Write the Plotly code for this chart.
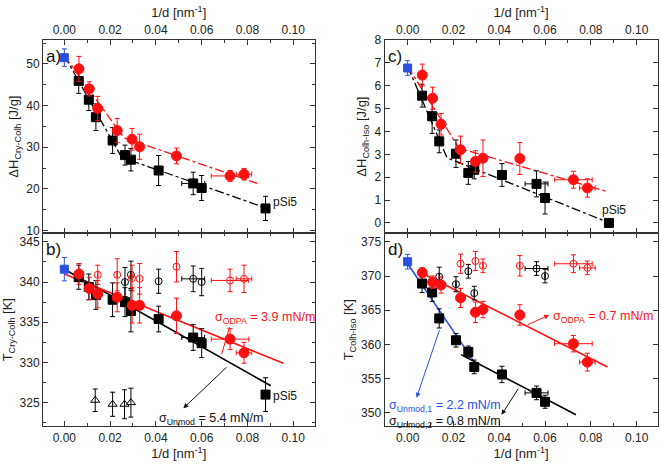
import plotly.graph_objects as go

RED = "#ff1010"
BLK = "#000000"
BLU = "#2a50e0"

# ---------------- data ----------------
x_bulk = [0.0]
x_unmod = [0.0063, 0.0107, 0.0138, 0.0211, 0.0265, 0.0291, 0.0412, 0.0563, 0.0600, 0.0879]
x_odpa = [0.0064, 0.0109, 0.0146, 0.0231, 0.0296, 0.0329, 0.0490, 0.0724, 0.0785]
xerr_unmod = [0, 0, 0, 0, 0, 0, 0, 0.005, 0, 0]
xerr_odpa = [0, 0, 0, 0, 0, 0, 0, 0.0082, 0.0034]

# a) dH Cry-Colh
a_bulk = [51.5]; a_bulk_err = [2.1]
a_unmod = [45.9, 41.4, 37.2, 31.6, 28.1, 27.0, 24.4, 21.3, 20.2, 15.3]
a_unmod_err = [3.0, 2.6, 3.2, 3.1, 2.4, 2.7, 3.6, 2.7, 3.0, 2.9]
a_odpa = [48.8, 44.0, 39.3, 34.0, 31.9, 30.1, 27.9, 23.1, 23.5]
a_odpa_err = [3.0, 1.7, 2.9, 2.9, 2.6, 3.0, 1.9, 1.3, 1.4]
a_fit_unmod_x = [0.0, 0.025, 0.088]; a_fit_unmod_y = [52.0, 27.6, 15.4]
a_fit_odpa_x = [0.0, 0.026, 0.0843]; a_fit_odpa_y = [52.0, 32.3, 21.3]

# b) T Cry-Colh
b_bulk = [341.6]; b_bulk_err = [1.45]
b_unmod = [340.6, 339.4, 338.4, 337.8, 337.5, 336.4, 335.4, 333.1, 332.4, 326.0]
b_unmod_err = [1.5, 1.6, 1.8, 2.1, 1.8, 2.6, 1.6, 1.6, 1.8, 2.1]
b_odpa = [341.0, 339.2, 338.5, 338.1, 337.1, 337.1, 335.8, 332.9, 331.2]
b_odpa_err = [1.3, 1.4, 1.7, 1.8, 2.2, 2.2, 2.2, 1.3, 1.3]
b_open_unmod_x = [0.0265, 0.0291, 0.0412, 0.0563, 0.0600]
b_open_unmod = [340.0, 340.9, 340.1, 340.4, 340.0]
b_open_unmod_err = [1.8, 1.7, 1.5, 1.6, 1.7]
b_open_unmod_xerr = [0, 0, 0, 0.005, 0]
b_open_odpa_x = [0.0146, 0.0231, 0.0296, 0.0329, 0.0490, 0.0724, 0.0785]
b_open_odpa = [340.9, 340.9, 340.5, 340.4, 341.9, 340.2, 340.4]
b_open_odpa_err = [1.2, 2.0, 1.6, 1.9, 1.9, 1.4, 1.7]
b_open_odpa_xerr = [0, 0, 0, 0, 0, 0.0082, 0.0034]
b_tri_x = [0.0135, 0.0211, 0.0263, 0.0291]
b_tri = [325.3, 324.8, 324.8, 325.0]
b_tri_err = [1.4, 1.5, 1.8, 1.8]
b_fit_unmod_x = [0.0, 0.0902]; b_fit_unmod_y = [341.6, 327.1]
b_fit_odpa_x = [0.0, 0.0957]; b_fit_odpa_y = [341.0, 329.9]

# c) dH Colh-Iso
c_bulk = [6.78]; c_bulk_err = [0.32]
c_unmod = [5.57, 4.67, 3.57, 3.03, 2.19, 2.33, 2.10, 1.71, 1.09, 0.0]
c_unmod_err = [0.5, 0.75, 0.5, 0.6, 0.5, 0.4, 0.5, 0.57, 0.7, 0]
c_odpa = [6.47, 5.46, 4.32, 3.20, 2.69, 2.83, 2.82, 1.89, 1.53]
c_odpa_err = [0.48, 0.48, 0.47, 0.6, 0.47, 0.8, 0.7, 0.37, 0.4]
c_fit_unmod_x = [0.0, 0.0172, 0.0875]; c_fit_unmod_y = [6.85, 2.85, 0.03]
c_fit_odpa_x = [0.0, 0.0225, 0.0865]; c_fit_odpa_y = [6.85, 3.27, 1.39]

# d) T Colh-Iso
d_bulk = [372.1]; d_bulk_err = [1.07]
d_unmod_x = x_unmod[:9]
d_unmod = [368.9, 367.6, 363.8, 360.6, 358.9, 356.7, 355.6, 352.9, 351.6]
d_unmod_err = [1.3, 1.3, 1.4, 1.0, 0.85, 1.0, 1.2, 1.0, 0.95]
d_odpa = [370.5, 369.1, 368.7, 366.8, 364.7, 365.1, 364.3, 360.1, 357.4]
d_odpa_err = [0.7, 0.9, 1.2, 1.4, 1.5, 1.2, 1.5, 1.2, 1.3]
d_open_unmod_x = [0.0138, 0.0211, 0.0265, 0.0291, 0.0563, 0.0600]
d_open_unmod = [369.9, 368.8, 370.7, 367.5, 371.1, 370.0]
d_open_unmod_err = [1.4, 1.1, 1.0, 1.0, 1.0, 1.0]
d_open_unmod_xerr = [0, 0, 0, 0, 0.005, 0]
d_open_odpa_x = [0.0231, 0.0296, 0.0329, 0.0490, 0.0724, 0.0785]
d_open_odpa = [371.8, 372.2, 371.5, 371.5, 371.8, 371.2]
d_open_odpa_err = [1.4, 1.4, 1.0, 1.5, 1.3, 1.0]
d_open_odpa_xerr = [0, 0, 0, 0, 0.0082, 0.0034]
d_fit1_x = [0.0, 0.030]; d_fit1_y = [371.8, 357.0]
d_fit2_x = [0.0233, 0.0735]; d_fit2_y = [358.5, 349.7]
d_fit_odpa_x = [0.0046, 0.0873]; d_fit_odpa_y = [370.7, 356.7]

fig = go.Figure()


def pts(x, y, ey, ax, color, symbol, size, ex=None, lw=1.0):
    e_x = dict(type="data", array=ex, color=color, thickness=1, width=2.5, visible=True) if ex else None
    fig.add_trace(go.Scatter(
        x=x, y=y, mode="markers", xaxis=ax[0], yaxis=ax[1],
        marker=dict(color=color, symbol=symbol, size=size,
                    line=dict(color=color, width=lw)),
        error_y=dict(type="data", array=ey, color=color, thickness=1, width=2.5),
        error_x=e_x, showlegend=False))


def line(x, y, ax, color, dash, width=1.3):
    fig.add_trace(go.Scatter(x=x, y=y, mode="lines", xaxis=ax[0], yaxis=ax[1],
                             line=dict(color=color, dash=dash, width=width), showlegend=False))


A = ("x", "y"); B = ("x2", "y2"); C = ("x3", "y3"); D = ("x4", "y4")

# panel a
line(a_fit_unmod_x, a_fit_unmod_y, A, BLK, "dashdot")
line(a_fit_odpa_x, a_fit_odpa_y, A, RED, "dashdot")
pts(x_unmod, a_unmod, a_unmod_err, A, BLK, "square", 9, xerr_unmod)
pts(x_odpa, a_odpa, a_odpa_err, A, RED, "circle", 10, xerr_odpa)
pts(x_bulk, a_bulk, a_bulk_err, A, BLU, "square", 8)

# panel b
line(b_fit_unmod_x, b_fit_unmod_y, B, BLK, "solid", 1.6)
line(b_fit_odpa_x, b_fit_odpa_y, B, RED, "solid", 1.6)
pts(b_open_unmod_x, b_open_unmod, b_open_unmod_err, B, BLK, "circle-open", 7, b_open_unmod_xerr)
pts(b_open_odpa_x, b_open_odpa, b_open_odpa_err, B, RED, "circle-open", 7, b_open_odpa_xerr)
pts(b_tri_x, b_tri, b_tri_err, B, BLK, "triangle-up-open", 8)
pts(x_unmod, b_unmod, b_unmod_err, B, BLK, "square", 9, xerr_unmod)
pts(x_odpa, b_odpa, b_odpa_err, B, RED, "circle", 10, xerr_odpa)
pts(x_bulk, b_bulk, b_bulk_err, B, BLU, "square", 8)

# panel c
line(c_fit_unmod_x, c_fit_unmod_y, C, BLK, "dashdot")
line(c_fit_odpa_x, c_fit_odpa_y, C, RED, "dashdot")
pts(x_unmod, c_unmod, c_unmod_err, C, BLK, "square", 9, xerr_unmod)
pts(x_odpa, c_odpa, c_odpa_err, C, RED, "circle", 10, xerr_odpa)
pts(x_bulk, c_bulk, c_bulk_err, C, BLU, "square", 8)

# panel d
line(d_fit1_x, d_fit1_y, D, BLU, "solid", 1.6)
line(d_fit2_x, d_fit2_y, D, BLK, "solid", 1.6)
line(d_fit_odpa_x, d_fit_odpa_y, D, RED, "solid", 1.6)
pts(d_open_unmod_x, d_open_unmod, d_open_unmod_err, D, BLK, "circle-open", 7, d_open_unmod_xerr)
pts(d_open_odpa_x, d_open_odpa, d_open_odpa_err, D, RED, "circle-open", 7, d_open_odpa_xerr)
pts(d_unmod_x, d_unmod, d_unmod_err, D, BLK, "square", 9, xerr_unmod[:9])
pts(x_odpa, d_odpa, d_odpa_err, D, RED, "circle", 10, xerr_odpa)
pts(x_bulk, d_bulk, d_bulk_err, D, BLU, "square", 8)

FONT = "Liberation Sans, Arial, sans-serif"
xL = [0.0651, 0.4758]
xR = [0.5817, 0.995]
yTop = [0.5, 0.9267]
yBot = [0.0722, 0.5]

common_x = dict(tickmode="linear", tick0=0, dtick=0.02, tickformat=".2f", ticks="inside",
                ticklen=5, showline=True, linecolor="#333", linewidth=1, mirror="ticks",
                showgrid=False, zeroline=False, tickfont=dict(size=12, color="#222"),
                minor=dict(ticks="inside", dtick=0.01, ticklen=3, tickcolor="#333"),
                tickcolor="#333")
common_y = dict(ticks="inside", ticklen=5, showline=True, linecolor="#333", linewidth=1,
                mirror="ticks", showgrid=False, zeroline=False,
                tickfont=dict(size=12, color="#222"), tickcolor="#333",
                title_font=dict(size=13, color="#222"))
xtitle = "1/d [nm<sup>-1</sup>]"

fig.update_layout(
    width=661, height=464, margin=dict(l=0, r=0, t=0, b=0),
    paper_bgcolor="white", plot_bgcolor="white",
    font=dict(family=FONT, size=12, color="#222"),
    xaxis=dict(domain=xL, anchor="y", side="top", range=[-0.0093, 0.1093],
               title=dict(text=xtitle, standoff=2, font=dict(size=13)), **common_x),
    yaxis=dict(domain=yTop, anchor="x", range=[9.4, 55.7], tickmode="linear", tick0=0, dtick=10,
               minor=dict(ticks="inside", dtick=5, ticklen=3, tickcolor="#333"),
               title=dict(text="ΔH<sub>Cry-Colh</sub> [J/g]", standoff=4), **common_y),
    xaxis2=dict(domain=xL, anchor="y2", side="bottom", range=[-0.0093, 0.1093],
                title=dict(text=xtitle, standoff=2, font=dict(size=13)), **common_x),
    yaxis2=dict(domain=yBot, anchor="x2", range=[322.05, 346.1], tickmode="linear", tick0=0, dtick=5,
                minor=dict(ticks="inside", dtick=2.5, ticklen=3, tickcolor="#333"),
                title=dict(text="T<sub>Cry-Colh</sub> [K]", standoff=4), **common_y),
    xaxis3=dict(domain=xR, anchor="y3", side="top", range=[-0.0101, 0.1092],
                title=dict(text=xtitle, standoff=2, font=dict(size=13)), **common_x),
    yaxis3=dict(domain=yTop, anchor="x3", range=[-0.44, 8.0], tickmode="linear", tick0=0, dtick=1,
                title=dict(text="ΔH<sub>Colh-Iso</sub> [J/g]", standoff=4), **common_y),
    xaxis4=dict(domain=xR, anchor="y4", side="bottom", range=[-0.0101, 0.1092],
                title=dict(text=xtitle, standoff=2, font=dict(size=13)), **common_x),
    yaxis4=dict(domain=yBot, anchor="x4", range=[348.0, 376.3], tickmode="linear", tick0=0, dtick=5,
                title=dict(text="T<sub>Colh-Iso</sub> [K]", standoff=4), **common_y),
)

ann = []
for lab, xr, yr in [("a)", "x", "y"), ("b)", "x2", "y2"), ("c)", "x3", "y3"), ("d)", "x4", "y4")]:
    ann.append(dict(text=lab, xref=xr + " domain", yref=yr + " domain", x=0.005, y=0.975,
                    xanchor="left", yanchor="top", showarrow=False, font=dict(size=17, color="#111")))

AF = 12.5
ann += [
    dict(text="pSi5", xref="x", yref="y", x=0.0905, y=16.9, xanchor="left", showarrow=False,
         font=dict(size=12, color="#111")),
    dict(text="pSi5", xref="x2", yref="y2", x=0.0905, y=325.8, xanchor="left", showarrow=False,
         font=dict(size=12, color="#111")),
    dict(text="pSi5", xref="x3", yref="y3", x=0.084, y=0.55, xanchor="left", showarrow=False,
         font=dict(size=12, color="#111")),
    dict(text="σ<sub>ODPA</sub> = 3.9 mN/m", xref="x2", yref="y2", x=0.065, y=335.5, xanchor="left",
         showarrow=False, font=dict(size=AF, color=RED)),
    dict(text="σ<sub>Unmod</sub> = 5.4 mN/m", xref="x2", yref="y2", x=0.0405, y=322.95, xanchor="left",
         showarrow=False, font=dict(size=AF, color="#111")),
    dict(text="σ<sub>ODPA</sub> = 0.7 mN/m", xref="x4", yref="y4", x=0.0625, y=364.0, xanchor="left",
         showarrow=False, font=dict(size=AF, color=RED)),
    dict(text="σ<sub>Unmod,1</sub> = 2.2 mN/m", xref="x4", yref="y4", x=-0.0088, y=350.95, xanchor="left",
         showarrow=False, font=dict(size=AF, color=BLU)),
    dict(text="σ<sub>Unmod,2</sub> = 0.8 mN/m", xref="x4", yref="y4", x=-0.0088, y=348.6, xanchor="left",
         showarrow=False, font=dict(size=AF, color="#111")),
    # arrows
    dict(text="", xref="x2", yref="y2", axref="x2", ayref="y2", x=0.0687, y=331.0, ax=0.0724, ay=334.6,
         showarrow=True, arrowhead=0, arrowwidth=1, arrowcolor=RED),
    dict(text="", xref="x2", yref="y2", axref="x2", ayref="y2", x=0.052, y=324.3, ax=0.0716, ay=329.6,
         showarrow=True, arrowhead=2, arrowsize=1, arrowwidth=1, arrowcolor="#111"),
    dict(text="", xref="x4", yref="y4", axref="x4", ayref="y4", x=0.0618, y=364.3, ax=0.0517, ay=362.75,
         showarrow=True, arrowhead=2, arrowsize=1, arrowwidth=1, arrowcolor=RED),
    dict(text="", xref="x4", yref="y4", axref="x4", ayref="y4", x=0.0039, y=352.2, ax=0.0141, ay=362.3,
         showarrow=True, arrowhead=2, arrowsize=1, arrowwidth=1, arrowcolor=BLU),
    dict(text="", xref="x4", yref="y4", axref="x4", ayref="y4", x=0.041, y=349.7, ax=0.0487, ay=353.7,
         showarrow=True, arrowhead=2, arrowsize=1, arrowwidth=1, arrowcolor="#111"),
]
fig.update_layout(annotations=ann)

fig.write_html("out.html")
